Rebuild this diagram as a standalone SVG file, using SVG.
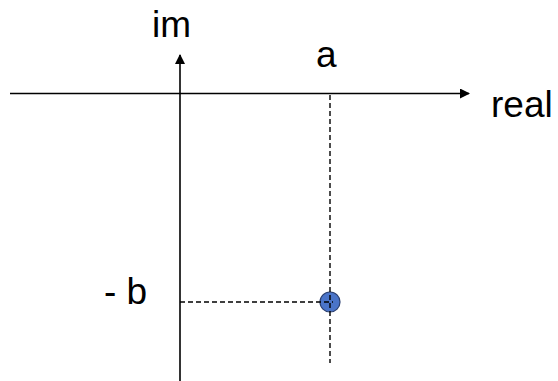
<svg xmlns="http://www.w3.org/2000/svg" width="558" height="381" viewBox="0 0 558 381">
<style>
.lbl{font-family:"Liberation Sans",Arial,sans-serif;font-size:37px;fill:#000}
.axis{stroke:#000;stroke-width:1.6;fill:none}
.dash{stroke:#000;stroke-width:1.4;stroke-dasharray:5,3;fill:none}
</style>
<defs>
<marker id="arr" viewBox="0 0 10 10" refX="9" refY="5" markerWidth="10" markerHeight="10" markerUnits="userSpaceOnUse" orient="auto">
<path d="M0,0 L10,5 L0,10 z" fill="#000"/>
</marker>
</defs>
<rect width="558" height="381" fill="#fff"/>
<g id="point">
<circle cx="330" cy="302" r="10" fill="#4a74c8" stroke="#2a3f70" stroke-width="1.2"/>
</g>
<g id="connectors">
<line class="axis" x1="10" y1="93.5" x2="469" y2="93.5" marker-end="url(#arr)"/>
<line class="axis" x1="180" y1="381" x2="180" y2="55" marker-end="url(#arr)"/>
<line class="dash" x1="330" y1="95" x2="330" y2="363"/>
<line class="dash" x1="180" y1="302" x2="333" y2="302"/>
</g>
<g id="label-im"><text class="lbl" x="152" y="37">im</text></g>
<g id="label-a"><text class="lbl" x="316" y="67">a</text></g>
<g id="label-real"><text class="lbl" x="491" y="117">real</text></g>
<g id="label-b"><text class="lbl" x="104" y="304">- b</text></g>
</svg>
